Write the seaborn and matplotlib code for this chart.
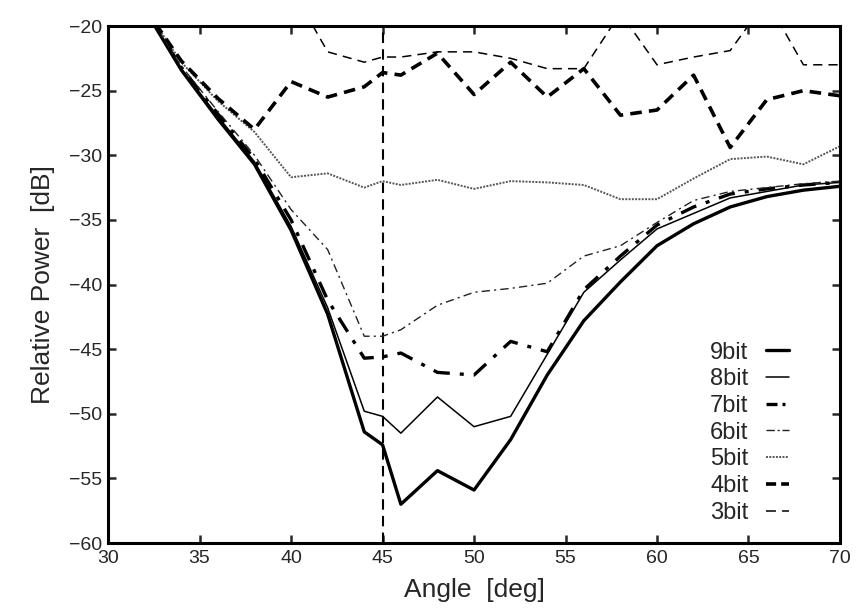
import matplotlib
matplotlib.use("Agg")
import matplotlib.pyplot as plt
import seaborn as sns
import pandas as pd

angles = [32, 34, 36, 38, 40, 42, 44, 45, 46, 48, 50, 52, 54, 56, 58, 60, 62, 64, 66, 68, 70]

bit9 = [-18.7, -23.4, -27.2, -30.7, -35.8, -42.3, -51.4, -52.4, -57.0, -54.4, -55.9,
        -52.0, -47.0, -42.8, -39.8, -37.0, -35.3, -34.0, -33.2, -32.7, -32.4]
bit8 = [-18.7, -23.3, -27.0, -30.5, -35.5, -41.8, -49.8, -50.2, -51.5, -48.7, -51.0,
        -50.2, -45.4, -40.6, -38.1, -35.7, -34.5, -33.3, -32.8, -32.3, -32.1]
bit7 = [-18.7, -23.2, -26.8, -30.3, -35.0, -41.2, -45.7, -45.6, -45.3, -46.8, -47.0,
        -44.4, -45.2, -40.4, -37.8, -35.4, -34.0, -33.0, -32.6, -32.3, -32.1]
bit6 = [-18.7, -23.1, -26.6, -30.0, -34.2, -37.3, -44.0, -44.0, -43.5, -41.6, -40.6,
        -40.3, -39.9, -37.8, -37.0, -35.2, -33.5, -32.8, -32.5, -32.2, -32.0]
bit5 = [-18.6, -22.8, -25.8, -28.2, -31.7, -31.4, -32.5, -32.0, -32.3, -31.9, -32.6,
        -32.0, -32.1, -32.3, -33.4, -33.4, -31.8, -30.3, -30.1, -30.7, -29.3]
bit4 = [-18.6, -22.7, -25.6, -28.0, -24.3, -25.5, -24.7, -23.6, -23.8, -22.1, -25.3,
        -22.8, -25.5, -23.3, -26.9, -26.5, -23.8, -29.4, -25.7, -25.0, -25.4]
bit3 = [-17.0, -16.5, -16.5, -16.8, -17.0, -22.0, -22.8, -22.4, -22.4, -22.0, -22.0,
        -22.5, -23.3, -23.3, -19.0, -23.0, -22.4, -21.9, -18.0, -23.0, -23.0]

labels = ["9bit", "8bit", "7bit", "6bit", "5bit", "4bit", "3bit"]
series = [bit9, bit8, bit7, bit6, bit5, bit4, bit3]
x_ticks = [30, 35, 40, 45, 50, 55, 60, 65, 70]
y_ticks = [-60, -55, -50, -45, -40, -35, -30, -25, -20]

styles = {
    "9bit": dict(lw=2.4, ls="-", color="black"),
    "8bit": dict(lw=1.1, ls="-", color="black"),
    "7bit": dict(lw=2.4, ls=(0, (5, 3, 1.2, 3)), color="black"),
    "6bit": dict(lw=1.0, ls=(0, (6, 3, 1.5, 3)), color="#222222"),
    "5bit": dict(lw=1.4, ls=(0, (1, 0.7)), color="#555555"),
    "4bit": dict(lw=2.6, ls=(0, (3.2, 2.0)), color="black"),
    "3bit": dict(lw=1.1, ls=(0, (6, 4)), color="black"),
}
legend_ls = {
    "9bit": "-",
    "8bit": "-",
    "7bit": (0, (3.3, 1.5, 0.9, 1.5)),
    "6bit": (0, (6, 2, 1.5, 2)),
    "5bit": (0, (1, 0.7)),
    "4bit": (0, (2.8, 1.4)),
    "3bit": (0, (6.5, 4)),
}

sns.set_style("ticks")
plt.rcParams["font.family"] = ["Liberation Sans", "DejaVu Sans"]

fig = plt.figure(figsize=(8.58, 6.12), dpi=100)
ax = fig.add_axes([0.126, 0.1127, 0.853, 0.8448])

rows = []
for lab, vals in zip(labels, series):
    for a, v in zip(angles, vals):
        rows.append({"Angle": a, "Power": v, "Bits": lab})
df = pd.DataFrame(rows)

for lab in labels:
    sub = df[df["Bits"] == lab]
    st = styles[lab]
    sns.lineplot(data=sub, x="Angle", y="Power", ax=ax, estimator=None, sort=False,
                 color=st["color"], linewidth=st["lw"], linestyle=st["ls"], label=lab)

ax.axvline(45, color="black", lw=1.5, ls=(0, (5, 3)), zorder=1)

ax.set_xlim(30, 70)
ax.set_ylim(-60, -20)
ax.set_xticks(x_ticks)
ax.set_yticks(y_ticks)
ax.tick_params(direction="in", length=6, width=1.8, labelsize=14,
               top=True, right=True)
ax.tick_params(axis="x", pad=5)
ax.tick_params(axis="y", pad=4)
for sp in ax.spines.values():
    sp.set_linewidth(2.2)
    sp.set_color("black")

ax.set_xlabel("Angle  [deg]", fontsize=19, labelpad=8)
ax.set_ylabel("Relative Power  [dB]", fontsize=19, labelpad=10)

leg = ax.legend(loc="lower right", bbox_to_anchor=(0.959, -0.004), frameon=False,
                markerfirst=False, fontsize=17, handlelength=0.95, handletextpad=0.75,
                labelspacing=0.2, borderpad=0.4)
for line, txt in zip(leg.get_lines(), leg.get_texts()):
    line.set_linestyle(legend_ls[txt.get_text()])

fig.savefig("out.png", dpi=100)
